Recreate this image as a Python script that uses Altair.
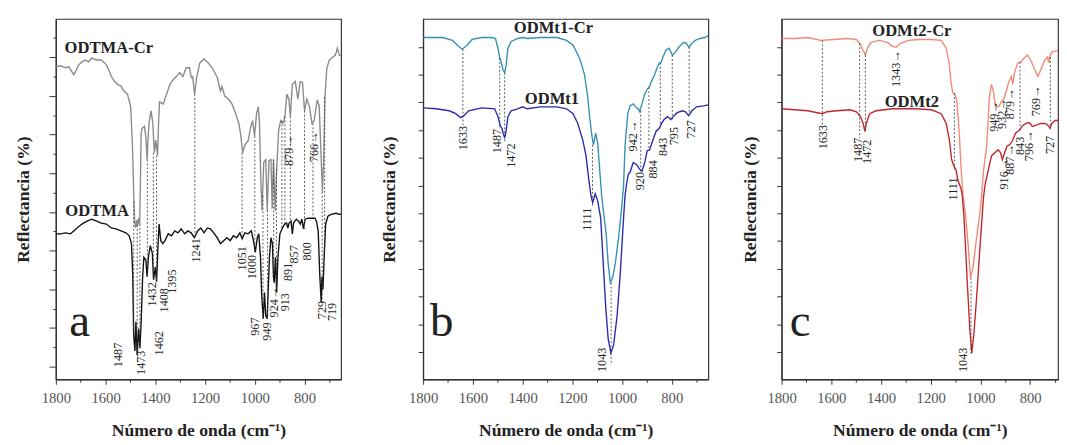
import altair as alt
import pandas as pd

FONT = "Liberation Serif"
INK = "#222222"
FRAME = "#333333"

X_TICKS = [1800, 1700, 1600, 1500, 1400, 1300, 1200, 1100, 1000, 900, 800, 700]
A_YTICKS = [0, 20, 40, 59, 79, 99, 119, 139, 158, 178, 198, 218, 238, 257, 277, 297, 317, 337]
BC_YTICKS = [0, 28, 57, 85, 114, 142, 170, 199, 227, 256, 284, 312]

# ---------------- panel a : ODTMA-Cr / ODTMA ----------------
a_cr_wn = [1800,1780,1761,1748,1728,1721,1708,1695,1682,1669,1656,1636,1617,1597,1584,1577,1564,1551,1538,1525,
           1512,1505,1499,1492,1486,1483,1479,1475,1471,1467,1463,1460,1457,1453,1444,1438,1433,1428,1424,1417,
           1410,1404,1398,1391,1387,1383,1368,1355,1341,1328,1315,1302,1289,1276,1263,1255,1250,1242,1234,1221,
           1204,1191,1171,1151,1138,1132,1121,1106,1092,1077,1064,1056,1049,1040,1027,1016,1009,1001,993,986,
           981,976,971,964,956,950,943,935,930,925,918,912,904,896,887,879,871,863,857,849,
           837,827,817,808,800,791,781,770,761,749,741,735,728,723,718,710,700,686,676,668,660,654]
a_cr_r = [307,308,306,307,299,302,309,312,314,312,316,314,314,309,302,297,292,289,287,282,
          279,272,266,226,169,148,142,150,144,152,146,190,239,244,246,235,212,240,252,262,
          249,219,232,216,250,271,269,279,289,294,297,301,297,306,306,296,297,279,296,311,
          315,312,306,296,282,287,277,274,269,259,249,236,219,227,231,246,252,236,259,266,
          249,192,160,209,212,160,211,212,162,212,160,202,242,252,249,256,279,274,256,289,
          292,274,292,291,262,274,267,249,252,273,267,226,179,212,276,306,314,317,319,326,319,318]
a_wn = [1800,1780,1761,1741,1728,1715,1695,1675,1656,1636,1617,1597,1577,1558,1538,1518,1505,1496,1491,1487,
        1482,1478,1473,1467,1462,1457,1451,1446,1438,1433,1428,1420,1412,1407,1400,1395,1390,1385,1378,1370,
        1361,1348,1335,1322,1309,1296,1282,1269,1256,1243,1230,1217,1204,1191,1178,1165,1151,1138,1125,1112,
        1099,1086,1073,1060,1051,1040,1027,1014,1003,998,990,984,977,972,966,961,956,950,946,941,
        935,929,925,922,917,912,907,899,889,880,872,867,862,854,849,844,833,824,817,811,
        804,798,785,772,758,752,745,739,733,730,726,720,715,706,693,673,660,654]
a_r = [136,136,137,136,139,142,146,149,151,149,147,146,142,141,139,137,134,126,96,32,
       16,46,12,39,19,46,92,112,109,92,112,124,116,89,102,87,119,146,129,126,
       129,136,134,139,137,141,136,139,137,132,139,142,137,142,141,137,132,126,129,132,
       129,134,132,137,131,137,136,139,126,117,132,136,112,72,49,76,52,49,79,112,
       132,126,92,86,112,76,112,136,142,146,147,142,147,149,136,147,151,149,146,151,
       141,151,152,152,152,149,139,96,66,92,79,119,146,154,156,157,156,156]
a_rule_wn = [1487,1473,1462,1432,1408,1395,1241,1051,1000,967,949,924,913,891,879,857,800,766,729,719]
a_rule_top = [169,145,146,212,219,216,279,219,236,175,160,212,202,252,256,256,262,249,179,276]
a_rule_bot = [32,12,19,92,89,87,132,131,117,49,49,92,76,142,146,149,141,152,66,119]
a_lab_t = ["1487","1473","1462","1432","1408","1395","1241","1051","1000","967","949","924→","913",
           "891","857","800","729","719","879→","766→"]
a_lab_wn = [1551,1457,1385,1413,1365,1332,1237,1053,1011,998,950,921,880,866,841,790,730,689,861,762]
a_lab_r = [12,4,24,74,68,87,119,111,102,41,36,66,66,97,115,118,58,56,221,225]
a_names = ["ODTMA-Cr", "ODTMA"]
a_names_wn = [1765, 1762]
a_names_r = [326, 159]

# ---------------- panel b : ODMt1-Cr / ODMt1 ----------------
b_cr_wn = [1800,1721,1682,1662,1643,1623,1603,1564,1525,1509,1499,1492,1486,1479,1472,1466,1459,1446,1420,1400,
           1381,1328,1263,1223,1197,1171,1151,1138,1129,1121,1115,1106,1098,1090,1082,1073,1064,1056,1047,1037,
           1027,1014,1003,994,988,977,968,955,942,935,929,920,909,899,889,882,869,859,850,844,
           837,824,811,798,785,772,752,741,731,719,706,686,667,653]
b_cr_r = [322,322,319,314,310,314,320,322,322,321,311,301,297,289,286,294,311,318,321,322,
          321,322,322,319,314,301,284,261,237,221,212,224,214,187,160,140,121,91,71,77,
          91,117,144,170,211,244,252,254,250,249,246,254,264,269,272,277,284,291,296,296,
          301,309,311,304,307,312,317,316,312,316,319,321,322,324]
b_wn = [1800,1748,1695,1669,1649,1636,1617,1564,1512,1499,1489,1483,1478,1472,1466,1459,1446,1420,1400,1381,
        1328,1263,1223,1197,1178,1158,1145,1134,1125,1118,1108,1098,1086,1077,1066,1056,1045,1034,1020,1007,
        994,988,983,975,968,955,942,929,920,909,899,889,876,863,850,841,831,817,804,791,
        778,758,745,732,719,700,673,653]
b_r = [250,249,247,244,240,242,247,250,249,241,231,229,224,219,227,241,247,249,251,249,
       251,251,249,244,234,217,201,177,160,153,162,155,137,97,47,14,-1,7,37,81,
       137,160,170,182,184,194,192,187,185,194,206,207,217,226,229,234,238,241,238,242,
       245,247,246,242,247,251,252,253]
b_rule_wn = [1640,1492,1472,1119,1044,925,892,846,798,730]
b_rule_top = [310,301,286,212,71,247,271,296,304,312]
b_rule_bot = [232,231,216,150,-12,184,206,229,238,243]
b_lab_t = ["1633","1487","1472","942→","920","884","843","795","727","1111","1043"]
b_lab_wn = [1641,1503,1445,955,929,874,834,791,723,1142,1082]
b_lab_r = [219,216,201,221,175,187,210,221,228,136,-8]
b_names = ["ODMt1-Cr", "ODMt1"]
b_names_wn = [1276, 1282]
b_names_r = [332, 259]

# ---------------- panel c : ODMt2-Cr / ODMt2 ----------------
c_cr_wn = [1800,1748,1695,1643,1590,1538,1499,1486,1472,1463,1453,1440,1407,1374,1354,1339,1322,1289,1250,1197,
           1158,1138,1125,1119,1112,1103,1095,1086,1077,1070,1060,1051,1040,1030,1017,1003,994,988,975,964,
           956,948,942,935,925,916,906,896,886,876,870,863,850,837,824,811,798,785,769,754,
           741,730,726,720,713,700,686]
c_cr_r = [321,321,322,319,320,321,320,316,309,304,312,317,319,317,313,312,316,319,320,320,
          319,311,294,277,266,264,257,227,184,160,140,114,76,87,114,141,164,185,211,261,
          274,267,256,251,252,256,259,267,277,282,274,286,296,297,301,304,299,291,282,291,
          299,302,296,303,307,308,309]
c_wn = [1800,1748,1695,1656,1636,1617,1577,1525,1499,1483,1472,1465,1459,1446,1420,1354,1263,1197,1158,1138,
        1125,1116,1108,1099,1090,1079,1073,1066,1053,1043,1035,1027,1014,1001,988,981,968,955,942,929,
        919,912,903,893,883,872,859,843,830,817,804,791,778,758,739,728,720,713,700,685]
c_r = [249,248,247,245,244,246,247,248,246,241,234,226,234,244,247,249,249,248,244,234,
       217,197,191,187,175,168,160,137,71,24,-1,17,61,111,158,172,187,201,204,207,
       204,197,204,211,212,216,224,227,232,234,235,231,232,234,234,232,229,234,237,237]
c_rule_wn = [1636,1486,1463,1105,1038,841,719]
c_rule_top = [319,316,304,265,76,297,302]
c_rule_bot = [232,219,224,185,-2,227,229]
c_lab_t = ["1343→","1633","1487","1472","1111","949→","932→","879→","769→","916→","887→","843","796→","727","1043"]
c_lab_wn = [1340,1635,1491,1458,1111,946,913,881,777,906,879,841,803,718,1070]
c_lab_r = [290,220,207,205,167,241,244,254,257,182,197,211,211,212,-8]
c_names = ["ODMt2-Cr", "ODMt2"]
c_names_wn = [1276, 1276]
c_names_r = [329, 256]

letters = ["a", "b", "c"]
letters_wn = [1746, 1772, 1767]
letters_r = [31, 16, 16]


def xaxis():
    return alt.Axis(values=X_TICKS, format="d",
                    labelExpr="datum.value % 200 == 0 ? datum.label : ''",
                    labelFont=FONT, labelFontSize=15, labelColor="#555555", labelPadding=7,
                    labelFlush=False, labelOverlap=False,
                    tickSize={"condition": {"test": "datum.value % 200 == 0", "value": 5}, "value": 3},
                    tickColor=FRAME, domainColor=FRAME, domainWidth=1.2, grid=False,
                    title="Número de onda (cm⁻¹)", titleFont=FONT, titleFontSize=18,
                    titleFontWeight="bold", titleColor=INK, titlePadding=16)


def yaxis(ticks, tsize, tpad):
    return alt.Axis(values=ticks, labels=False, grid=False, tickSize=tsize,
                    tickColor=FRAME, domainColor=FRAME, domainWidth=1.2,
                    title="Reflectancia (%)", titleFont=FONT, titleFontSize=18,
                    titleFontWeight="bold", titleColor=INK, titlePadding=tpad)


def panel(series, rw, rt, rb, lt, lw, lr, nt, nw, nr, name_align, letter_i,
          width, xdom, ydom, yticks, tsize, tpad):
    xs = alt.Scale(domain=xdom, reverse=True, nice=False, zero=False)
    ys = alt.Scale(domain=ydom, nice=False, zero=False)
    ax_x = xaxis()
    ax_y = yaxis(yticks, tsize, tpad)

    def X(f):
        return alt.X(f"{f}:Q", scale=xs, axis=ax_x)

    def Y(f):
        return alt.Y(f"{f}:Q", scale=ys, axis=ax_y)

    layers = []
    for wn, r, color in series:
        df = pd.DataFrame({"wn": wn, "r": r})
        layers.append(alt.Chart(df).mark_line(color=color, strokeWidth=1.4, clip=True)
                      .encode(x=X("wn"), y=Y("r")))
    rdf = pd.DataFrame({"wn": rw, "r": rt, "r2": rb})
    layers.append(alt.Chart(rdf).mark_rule(color="#444444", strokeDash=[2, 2], strokeWidth=0.9)
                  .encode(x=X("wn"), y=Y("r"), y2="r2:Q"))
    ldf = pd.DataFrame({"wn": lw, "r": lr, "t": lt})
    layers.append(alt.Chart(ldf).mark_text(angle=270, font=FONT, fontSize=12.5, color=INK)
                  .encode(x=X("wn"), y=Y("r"), text="t:N"))
    ndf = pd.DataFrame({"wn": nw, "r": nr, "t": nt})
    layers.append(alt.Chart(ndf).mark_text(font=FONT, fontSize=17, fontWeight="bold", color=INK,
                                           align=name_align, baseline="middle")
                  .encode(x=X("wn"), y=Y("r"), text="t:N"))
    gdf = pd.DataFrame({"wn": [letters_wn[letter_i]], "r": [letters_r[letter_i]], "t": [letters[letter_i]]})
    layers.append(alt.Chart(gdf).mark_text(font=FONT, fontSize=48, color=INK, align="left",
                                           baseline="alphabetic")
                  .encode(x=X("wn"), y=Y("r"), text="t:N"))
    return alt.layer(*layers).properties(width=width, height=369)


pa = panel([(a_cr_wn, a_cr_r, "#8a8a8a"), (a_wn, a_r, "#111111")],
           a_rule_wn, a_rule_top, a_rule_bot, a_lab_t, a_lab_wn, a_lab_r,
           a_names, a_names_wn, a_names_r, "left", 0,
           292, [653, 1800], [-13, 356], A_YTICKS,
           {"condition": {"test": "round(datum.value / 19.8) % 2 == 0", "value": 7}, "value": 3}, 17)

pb = panel([(b_cr_wn, b_cr_r, "#3391b5"), (b_wn, b_r, "#2a2ab0")],
           b_rule_wn, b_rule_top, b_rule_bot, b_lab_t, b_lab_wn, b_lab_r,
           b_names, b_names_wn, b_names_r, "center", 1,
           292, [653, 1800], [-28, 341], BC_YTICKS, 5, 20)

pc = panel([(c_cr_wn, c_cr_r, "#ef8a74"), (c_wn, c_r, "#c0272d")],
           c_rule_wn, c_rule_top, c_rule_bot, c_lab_t, c_lab_wn, c_lab_r,
           c_names, c_names_wn, c_names_r, "center", 2,
           283, [688, 1800], [-28, 341], BC_YTICKS, 5, 17)

inner = alt.hconcat(pa, pb, spacing=38)
chart = (alt.hconcat(inner, pc, spacing=32)
         .properties(padding={"left": 5, "top": 5, "right": 0, "bottom": 0})
         .configure_view(stroke=FRAME, strokeWidth=1.2))

chart.save("out.html", embed_options={"renderer": "svg", "actions": False})
